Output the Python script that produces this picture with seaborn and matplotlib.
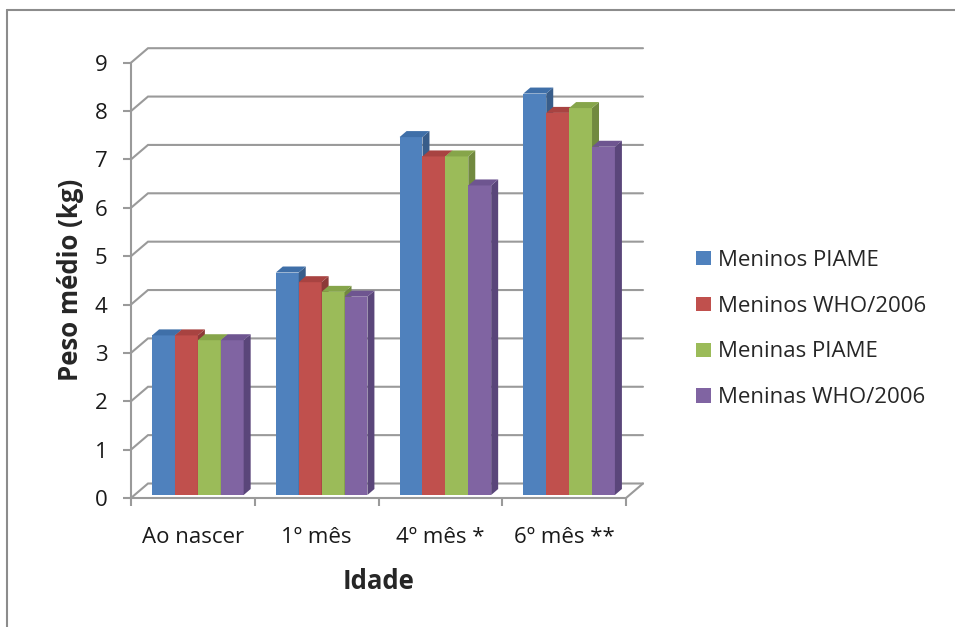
import matplotlib
matplotlib.use('Agg')
import matplotlib.pyplot as plt
from matplotlib.lines import Line2D
from matplotlib.patches import Patch, Polygon
import pandas as pd
import seaborn as sns

idades = ['Ao nascer', '1º mês', '4º mês *', '6º mês **']
grupos = ['Meninos PIAME', 'Meninos WHO/2006', 'Meninas PIAME', 'Meninas WHO/2006']
meninos_piame = [3.3, 4.6, 7.4, 8.3]
meninos_who = [3.3, 4.4, 7.0, 7.9]
meninas_piame = [3.2, 4.2, 7.0, 8.0]
meninas_who = [3.2, 4.1, 6.4, 7.2]

cores = ['#4F81BD', '#C0504D', '#9BBB59', '#8064A2']
cores_lado = ['#385D8A', '#8C3A38', '#71893F', '#5A467A']
cores_topo = ['#3F6FA8', '#A84341', '#86A54A', '#6E5590']
cinza = '#9A9A9A'

series = [meninos_piame, meninos_who, meninas_piame, meninas_who]
df = pd.DataFrame({
    'Idade': idades * len(grupos),
    'Grupo': [g for g in grupos for _ in idades],
    'Peso': [v for s in series for v in s],
})

sns.set_style('white')
plt.rcParams['font.family'] = ['Open Sans', 'DejaVu Sans']

fig = plt.figure(figsize=(9.55, 6.27), dpi=100)
ax = fig.add_axes([131 / 955, 1 - 498 / 627, 495 / 955, (498 - 62.7) / 627])

sns.barplot(data=df, x='Idade', y='Peso', hue='Grupo', hue_order=grupos,
            palette=cores, saturation=1, width=0.74, linewidth=0,
            legend=False, ax=ax)

ax.set_xlim(-0.5, 3.5)
ax.set_ylim(0, 9)
ax.set_yticks(range(0, 10))

# pixel -> data conversion for the pseudo-3D effect
px_x = ax.transData.transform((1, 0))[0] - ax.transData.transform((0, 0))[0]
px_y = ax.transData.transform((0, 1))[1] - ax.transData.transform((0, 0))[1]

# back wall grid
gdx, gdy = 17 / px_x, 14.5 / px_y
xl, xr = -0.5, 3.5
for v in range(0, 10):
    ax.plot([xl, xl + gdx, xr + gdx], [v, v + gdy, v + gdy], color=cinza,
            lw=1.5, clip_on=False, zorder=0.5, solid_joinstyle='miter')
ax.plot([xr, xr + gdx], [0, gdy], color=cinza, lw=1.5, clip_on=False, zorder=0.5)

# bars sit a little behind the front plane; add side and top faces
ox, oy = 5 / px_x, 3 / px_y
bdx, bdy = 7 / px_x, 6 / px_y
n = len(idades)
for i, bar in enumerate(ax.patches[:len(grupos) * n]):
    k = i // n
    z = 2 + k * 0.1
    bar.set_zorder(z)
    bar.set_x(bar.get_x() + ox)
    bar.set_y(bar.get_y() + oy)
    x0 = bar.get_x()
    x1 = x0 + bar.get_width()
    y0 = bar.get_y()
    y1 = y0 + bar.get_height()
    lado = Polygon([(x1, y0), (x1, y1), (x1 + bdx, y1 + bdy), (x1 + bdx, y0 + bdy)],
                   closed=True, facecolor=cores_lado[k], lw=0, zorder=z, clip_on=False)
    topo = Polygon([(x0, y1), (x1, y1), (x1 + bdx, y1 + bdy), (x0 + bdx, y1 + bdy)],
                   closed=True, facecolor=cores_topo[k], lw=0, zorder=z, clip_on=False)
    ax.add_patch(lado)
    ax.add_patch(topo)

for s in ['top', 'right']:
    ax.spines[s].set_visible(False)
for s in ['left', 'bottom']:
    ax.spines[s].set_color(cinza)
    ax.spines[s].set_linewidth(1.5)

ax.set_xticks([i - 0.5 for i in range(len(idades) + 1)], minor=True)
ax.tick_params(axis='x', which='minor', length=6, width=1.5, color=cinza, direction='out', bottom=True)
ax.tick_params(axis='x', which='major', length=0, pad=21, labelsize=16, labelcolor='#1a1a1a')
ax.tick_params(axis='y', which='major', length=6, width=1.5, color=cinza, direction='out',
               left=True, pad=11, labelsize=16, labelcolor='#1a1a1a')

ax.set_xlabel('Idade', fontsize=18.5, fontweight='bold', labelpad=14)
ax.set_ylabel('Peso médio (kg)', fontsize=18.5, fontweight='bold', labelpad=8)

handles = [Patch(facecolor=c, edgecolor='none') for c in cores]
fig.legend(handles, grupos, loc='center left', bbox_to_anchor=(676 / 955, 1 - 329 / 627),
           frameon=False, fontsize=16, handlelength=0.68, handleheight=0.6,
           handletextpad=0.32, labelspacing=1.12)

# chart border (left and top edges visible)
fig.add_artist(Line2D([7 / 955, 7 / 955], [0, 1 - 10 / 627], color='#8C8C8C', lw=1.5))
fig.add_artist(Line2D([7 / 955, 1], [1 - 10 / 627, 1 - 10 / 627], color='#8C8C8C', lw=1.5))

fig.savefig('out.png', dpi=100)
